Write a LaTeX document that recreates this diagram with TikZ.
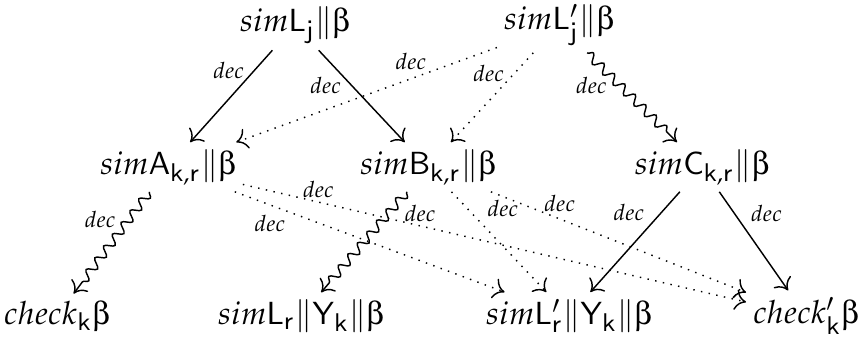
\documentclass[tikz,border=0pt]{standalone}
\usepackage{mathpazo}
\usepackage[Symbol]{upgreek}
\usetikzlibrary{arrows.meta,decorations.pathmorphing}
\newcommand{\sff}[1]{\mathsf{#1}}
\newcommand{\declab}{$dec$}

\begin{document}
\begin{tikzpicture}[
  x=0.3125pt,y=-0.3125pt,
  every node/.style={inner sep=2pt},
  state/.style={font=\normalsize},
  lbl/.style={font=\scriptsize,inner sep=1pt},
  arr/.style={-{Computer Modern Rightarrow[length=3.4pt,width=6.5pt]},line width=0.45pt},
  dots/.style={arr,dotted},
  squig/.style={arr,decorate,decoration={snake,amplitude=1.4pt,
    segment length=4.6pt,post length=2.5pt}}
]
  \useasboundingbox (0,0) rectangle (861,338);
  \node[state] (Lj) at (295,25) {$sim\sff{L}_{\sff{j}}\|\upbeta$};
  \node[state] (Ljp) at (559,25) {$sim\sff{L}'_{\sff{j}}\|\upbeta$};
  \node[state] (A) at (168,167) {$sim\sff{A}_{\sff{k,r}}\|\upbeta$};
  \node[state] (B) at (428,167) {$sim\sff{B}_{\sff{k,r}}\|\upbeta$};
  \node[state] (C) at (702,167) {$sim\sff{C}_{\sff{k,r}}\|\upbeta$};
  \node[state] (chk) at (57,316) {$check_{\sff{k}}\upbeta$};
  \node[state] (Lr) at (301,316) {$sim\sff{L}_{\sff{r}}\|\sff{Y}_{\sff{k}}\|\upbeta$};
  \node[state] (Lrp) at (569,316) {$sim\sff{L}'_{\sff{r}}\|\sff{Y}_{\sff{k}}\|\upbeta$};
  \node[state] (chkp) at (806,316) {$check'_{\sff{k}}\upbeta$};

  % top row
  \draw[arr] (Lj) -- node[lbl,pos=0.22,left=2pt] {\declab} (A);
  \draw[arr] (Lj) -- node[lbl,pos=0.38,left=2pt] {\declab} (B);
  \draw[dots] (Ljp) -- node[lbl,pos=0.33,above=1.5pt] {\declab} (A);
  \draw[dots] (Ljp) -- node[lbl,pos=0.23,left=2pt] {\declab} (B);
  \draw[squig] (Ljp) -- node[lbl,pos=0.37,left=3pt] {\declab} (C);
  % middle row
  \draw[squig] (A) -- node[lbl,pos=0.27,left=3pt] {\declab} (chk);
  \draw[dots] (A) -- node[lbl,pos=0.13,below=2pt] {\declab} (Lrp);
  \draw[dots] (A) -- node[lbl,pos=0.15,above=0pt] {\declab} (chkp);
  \draw[squig] (B) -- node[lbl,pos=0.22,right=4pt] {\declab} (Lr);
  \draw[dots] (B) -- node[lbl,pos=0.17,right=5pt] {\declab} (Lrp);
  \draw[dots] (B) -- node[lbl,pos=0.27,above=1pt] {\declab} (chkp);
  \draw[arr] (C) -- node[lbl,pos=0.21,left=4pt] {\declab} (Lrp);
  \draw[arr] (C) -- node[lbl,pos=0.22,right=4pt] {\declab} (chkp);
\end{tikzpicture}
\end{document}
